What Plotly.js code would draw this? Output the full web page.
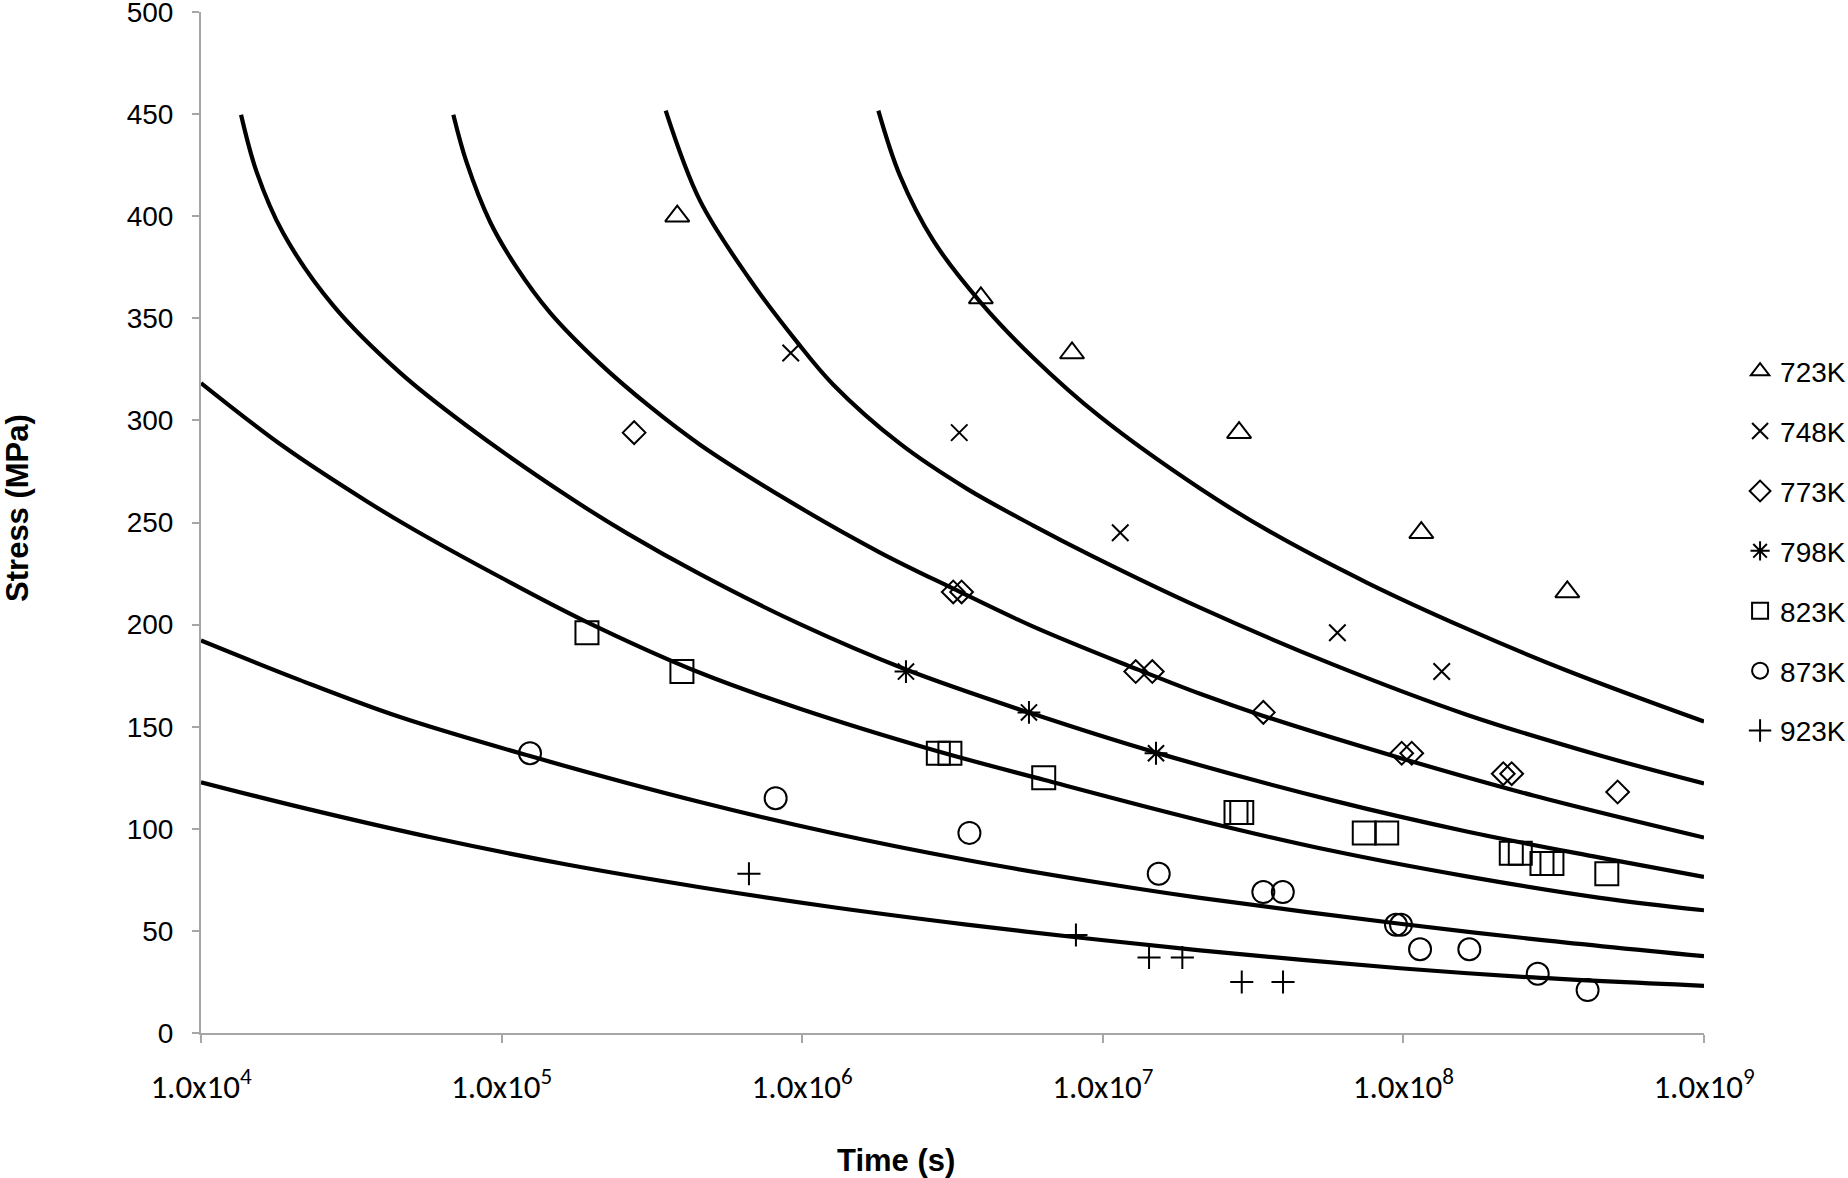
<!DOCTYPE html>
<html>
<head>
<meta charset="utf-8">
<script src="https://cdn.plot.ly/plotly-3.0.1.min.js"></script>
<style>html,body{margin:0;padding:0;background:#fff;}#chart{width:1848px;height:1178px;}</style>
</head>
<body>
<div id="chart"></div>
<script>
// ---- data ----
const temps = ['723K','748K','773K','798K','823K','873K','923K'];

// experimental points (time in s, stress in MPa)
const t723 = [3.84e5, 3.93e6, 7.90e6, 2.84e7, 1.147e8, 3.51e8];
const s723 = [400, 360, 333, 294, 245, 216];
const t748 = [9.16e5, 3.33e6, 1.143e7, 6.03e7, 1.341e8];
const s748 = [333, 294, 245, 196, 177];
const t773 = [2.76e5, 3.18e6, 3.39e6, 1.287e7, 1.461e7, 3.42e7, 9.87e7, 1.066e8, 2.149e8, 2.292e8, 5.16e8];
const s773 = [294, 216, 216, 177, 177, 157, 137, 137, 127, 127, 118];
const t798 = [2.214e6, 5.68e6, 1.503e7];
const s798 = [177, 157, 137];
const t823 = [1.923e5, 3.98e5, 2.837e6, 3.10e6, 6.36e6, 2.774e7, 2.899e7, 7.41e7, 8.80e7, 2.285e8, 2.448e8, 2.891e8, 3.12e8, 4.75e8];
const s823 = [196, 177, 137, 137, 125, 108, 108, 98, 98, 88, 88, 83, 83, 78];
const t873 = [1.243e5, 8.16e5, 3.60e6, 1.535e7, 3.42e7, 3.97e7, 9.45e7, 9.82e7, 1.136e8, 1.657e8, 2.798e8, 4.10e8];
const s873 = [137, 115, 98, 78, 69, 69, 53, 53, 41, 41, 29, 21];
const t923 = [6.65e5, 8.14e6, 1.425e7, 1.839e7, 2.899e7, 3.977e7];
const s923 = [78, 48, 37, 37, 25, 25];

// fitted curves, points
const c723t = [1.792e6, 2.115e6, 2.731e6, 3.934e6, 5.871e6, 9.788e6, 2.106e7, 3.599e7, 7.551e7, 1.624e8, 3.493e8, 1e9];
const c723s = [451.7, 419.8, 388.0, 357.6, 330.7, 301.8, 266.6, 245.5, 220.6, 198.0, 177.5, 152.5];
const c748t = [3.515e5, 4.571e5, 6.706e5, 9.59e5, 1.269e6, 2.115e6, 3.526e6, 5.871e6, 9.299e6, 2.106e7, 5.846e7, 1.624e8, 4.509e8, 1e9];
const c748s = [451.7, 407.6, 368.9, 338.6, 317.5, 288.6, 266.6, 248.5, 233.3, 208.3, 180.4, 155.9, 135.9, 122.2];
const c773t = [6.909e4, 7.655e4, 9.151e4, 1.123e5, 1.449e5, 2.125e5, 3.117e5, 4.571e5, 9.108e5, 1.815e6, 3.182e6, 5.871e6, 1.287e7, 2.106e7, 3.42e7, 9.743e7, 2.705e8, 1e9];
const c773s = [449.7, 426.2, 397.3, 374.8, 352.8, 327.8, 306.7, 288.1, 260.2, 235.3, 217.6, 199.0, 178.4, 166.1, 155.3, 134.7, 116.3, 95.7];
const c798t = [1.359e4, 1.532e4, 1.878e4, 2.755e4, 4.592e4, 7.655e4, 1.647e5, 2.608e5, 4.571e5, 9.833e5, 2.214e6, 5.683e6, 1.503e7, 5.846e7, 1.624e8, 4.509e8, 1e9];
const c798s = [449.7, 421.6, 391.6, 356.2, 323.4, 297.4, 263.2, 244.8, 224.7, 200.2, 178.0, 156.9, 137.3, 113.8, 98.7, 85.9, 76.4];
const c823t = [1e4, 1.878e4, 3.557e4, 5.085e4, 9.879e4, 1.87e5, 4.571e5, 9.833e5, 2.731e6, 6.36e6, 2.106e7, 5.846e7, 1.624e8, 4.509e8, 1e9];
const c823s = [318.3, 287.3, 260.4, 246.7, 223.3, 202.1, 176.4, 158.8, 138.6, 124.0, 104.1, 89.1, 76.7, 66.2, 60.1];
const c873t = [1e4, 2.135e4, 4.592e4, 1.243e5, 4.571e5, 1.269e6, 3.526e6, 9.788e6, 2.106e7, 9.743e7, 2.705e8, 1e9];
const c873s = [192.2, 172.8, 154.7, 135.6, 113.1, 97.8, 84.7, 73.6, 66.2, 53.5, 46.0, 37.6];
const c923t = [1e4, 2.135e4, 5.927e4, 1.647e5, 4.571e5, 1.269e6, 3.526e6, 8.145e6, 2.106e7, 9.743e7, 2.705e8, 1e9];
const c923s = [122.8, 110.6, 95.6, 82.5, 71.4, 61.6, 53.1, 46.9, 40.5, 31.7, 27.2, 23.1];

// axis ticks
const xTickVals = [1e4, 1e5, 1e6, 1e7, 1e8, 1e9];
const xTickText = ['1.0x10<sup>4</sup>','1.0x10<sup>5</sup>','1.0x10<sup>6</sup>','1.0x10<sup>7</sup>','1.0x10<sup>8</sup>','1.0x10<sup>9</sup>'];
const yTickVals = [0,50,100,150,200,250,300,350,400,450,500];

// ---- build traces ----
const pts = [[t723,s723],[t748,s748],[t773,s773],[t798,s798],[t823,s823],[t873,s873],[t923,s923]];
const curves = [[c723t,c723s],[c748t,c748s],[c773t,c773s],[c798t,c798s],[c823t,c823s],[c873t,c873s],[c923t,c923s]];
const symbols = ['triangle-up-open','x-thin-open','diamond-open','asterisk-open','square-open','circle-open','cross-thin-open'];
const sizes = [21, 16.5, 17.5, 19, 23, 22, 16.5];

const traces = [];
curves.forEach((c, i) => {
  traces.push({x: c[0], y: c[1], type: 'scatter', mode: 'lines',
    line: {color: '#000', width: 4.2, shape: 'spline', smoothing: 1},
    showlegend: false, hoverinfo: 'skip'});
});
pts.forEach((p, i) => {
  traces.push({x: p[0], y: p[1], type: 'scatter', mode: 'markers', name: temps[i],
    legendgroup: 'g' + i,
    marker: {symbol: symbols[i], size: sizes[i], color: '#000', line: {color: '#000', width: 2}}});
});

const layout = {
  width: 1848, height: 1178,
  margin: {l: 201, r: 144, t: 12, b: 144.5, pad: 0},
  paper_bgcolor: '#fff', plot_bgcolor: '#fff',
  font: {family: '"Liberation Sans", Arial, sans-serif', color: '#000'},
  xaxis: {type: 'log', range: [4, 9], tickvals: xTickVals, ticktext: xTickText,
    showgrid: false, zeroline: false, showline: true, linecolor: '#a6a6a6', linewidth: 2,
    ticks: 'outside', ticklen: 8, tickwidth: 2, tickcolor: '#a6a6a6', ticklabeloverflow: 'allow',
    tickfont: {family: 'Carlito, Lato, sans-serif', size: 33, color: '#000'}, ticklabelstandoff: 15},
  yaxis: {range: [0, 500], tickvals: yTickVals, showgrid: false, zeroline: false,
    showline: true, linecolor: '#a6a6a6', linewidth: 2,
    ticks: 'outside', ticklen: 7, tickwidth: 2, tickcolor: '#a6a6a6', ticklabeloverflow: 'allow',
    tickfont: {family: '"Liberation Sans", Arial, sans-serif', size: 28, color: '#000'}, ticklabelstandoff: 13},
  legend: {xref: 'container', yref: 'container', x: 0.9416, y: 0.5323, xanchor: 'left', yanchor: 'middle',
    font: {family: '"Liberation Sans", Arial, sans-serif', size: 28, color: '#000'},
    traceorder: 'grouped', tracegroupgap: 20.5, bgcolor: 'rgba(0,0,0,0)', borderwidth: 0},
  annotations: [
    {text: '<b>Time (s)</b>', xref: 'paper', yref: 'paper', x: 0.4622, y: -0.1249,
      xanchor: 'center', yanchor: 'middle', showarrow: false,
      font: {family: '"Liberation Sans", Arial, sans-serif', size: 31, color: '#000'}},
    {text: '<b>Stress (MPa)</b>', xref: 'paper', yref: 'paper', x: -0.1222, y: 0.5146,
      xanchor: 'center', yanchor: 'middle', textangle: -90, showarrow: false,
      font: {family: '"Liberation Sans", Arial, sans-serif', size: 31, color: '#000'}}
  ]
};

Plotly.newPlot('chart', traces, layout, {displayModeBar: false, staticPlot: true});
</script>
</body>
</html>
